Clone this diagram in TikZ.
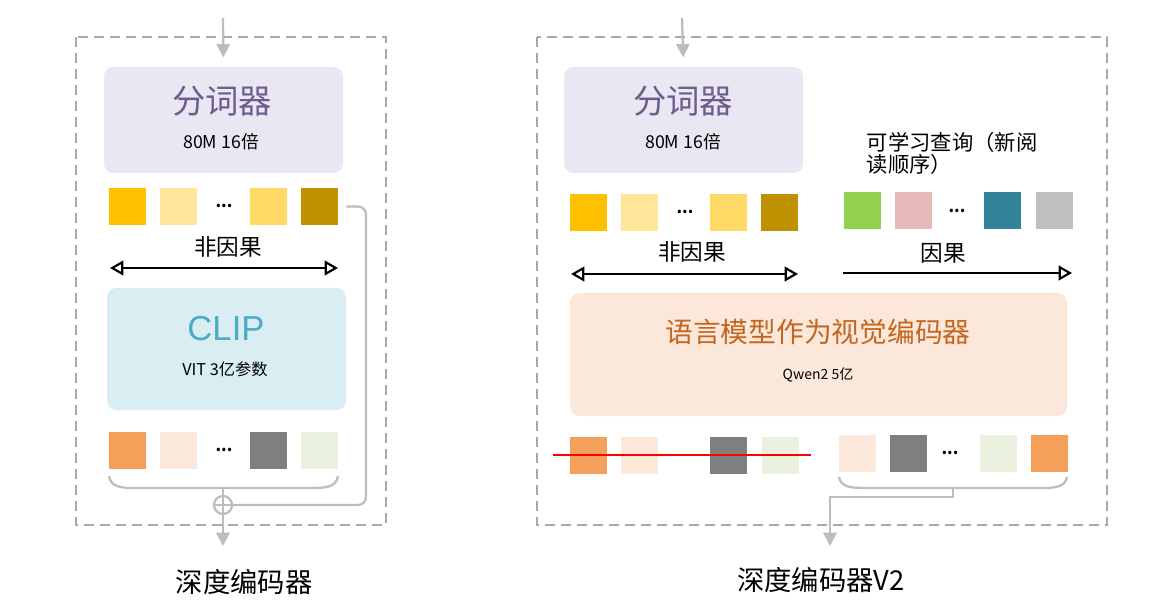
\documentclass[tikz,border=0pt]{standalone}
\usepackage{fontspec}
\setmainfont{Noto Sans CJK SC}
\newfontfamily\latinfont{Liberation Sans}
\usetikzlibrary{arrows.meta}
\definecolor{DashGray}{HTML}{A8A8A8}
\definecolor{LineGray}{HTML}{BDBDBD}
\definecolor{TokFill}{HTML}{E9E7F1}
\definecolor{TokText}{HTML}{6E5C8F}
\definecolor{ClipFill}{HTML}{DAEDF3}
\definecolor{ClipText}{HTML}{4BACC6}
\definecolor{LlmFill}{HTML}{FCE8DA}
\definecolor{LlmText}{HTML}{C4661F}
\definecolor{YelA}{HTML}{FFC000}
\definecolor{YelB}{HTML}{FFE699}
\definecolor{YelC}{HTML}{FFD966}
\definecolor{YelD}{HTML}{BF9000}
\definecolor{OrgA}{HTML}{F5A05A}
\definecolor{OrgB}{HTML}{FCE8DB}
\definecolor{GryA}{HTML}{7F7F7F}
\definecolor{GrnA}{HTML}{EBF1DF}
\definecolor{QryA}{HTML}{92D050}
\definecolor{QryB}{HTML}{E6B9B8}
\definecolor{QryC}{HTML}{31849B}
\definecolor{QryD}{HTML}{BFBFBF}

\begin{document}
\begin{tikzpicture}[x=0.75pt, y=-0.75pt,
    every node/.style={font=\fontsize{13.3}{15}\selectfont},
    panel/.style={draw=DashGray, line width=1.1pt, dash pattern=on 7.5pt off 4.5pt},
    tokbox/.style={rectangle, rounded corners=7pt, fill=TokFill, minimum width=179.25pt, minimum height=79.5pt},
    tok/.style={rectangle, minimum size=27.75pt, inner sep=0pt},
    dots/.style={font=\bfseries\fontsize{12}{14}\selectfont},
    lbl/.style={font=\fontsize{17}{20}\selectfont},
    captext/.style={font=\fontsize{20.5}{24}\selectfont},
    gline/.style={draw=LineGray, line width=1.7pt},
    garrow/.style={gline, -{Triangle[length=10pt, width=10pt]}},
    bidir/.style={line width=1.6pt, {Triangle[open, length=10pt, width=11pt]}-{Triangle[open, length=10pt, width=11pt]}}
  ]
    \useasboundingbox (0,0) rectangle (1156,609);

    % DeepEncoder
    \draw[panel] (76,37) rectangle (386,525);
    \coordinate (inL) at (223,18);
    \node[tokbox] (tokL) at (223.5,120) {};
    \node[font=\fontsize{25}{30}\selectfont, text=TokText] (tokLt) at (222,101) {分词器};
    \node (tokLs) at (221,142) {80M 16倍};
    \draw[garrow, shorten >=7pt] (inL) -- (tokL.north);

    \node[tok, fill=YelA] (yL1) at (127.5,206.5) {};
    \node[tok, fill=YelB] (yL2) at (178.5,206.5) {};
    \node[dots] (yLd) at (224,206) {...};
    \node[tok, fill=YelC] (yL3) at (268.5,206.5) {};
    \node[tok, fill=YelD] (yL4) at (319.5,206.5) {};

    \node[lbl] (ncL) at (228,247) {非因果};
    \coordinate (ncLa) at (110,268);
    \coordinate (ncLb) at (338,268);
    \draw[bidir] (ncLa) -- (ncLb);

    \node[rectangle, rounded corners=7pt, fill=ClipFill, minimum width=179.25pt, minimum height=91.5pt] (clip) at (226.5,349) {};
    \node[font=\latinfont\fontsize{26}{30}\selectfont, text=ClipText] (clipt) at (226,329) {CLIP};
    \node[font=\fontsize{12.2}{14}\selectfont] (clips) at (225,369) {VIT 3亿参数};

    \node[tok, fill=OrgA] (oL1) at (127.5,450) {};
    \node[tok, fill=OrgB] (oL2) at (178.5,450) {};
    \node[dots] (oLd) at (224,450) {...};
    \node[tok, fill=GryA] (oL3) at (268.5,450) {};
    \node[tok, fill=GrnA] (oL4) at (319.5,450) {};

    \draw[gline] (109,476) .. controls (111,487) and (120,488) .. (136,488) -- (311,488) .. controls (327,488) and (336,487) .. (338,476);
    \coordinate (brL) at (223,488);
    \node[circle, draw=LineGray, line width=1.7pt, minimum size=13.5pt, inner sep=0pt] (plus) at (223,505) {};
    \draw[gline] (plus.north) -- (plus.south) (plus.west) -- (plus.east);
    \draw[gline] (brL) -- (plus.north);
    \coordinate (byp) at (366,505);
    \draw[gline, rounded corners=6pt, shorten <=6pt] (yL4.east) -| (byp) -- (plus.east);
    \coordinate (outL) at (223,546);
    \draw[garrow] (plus.south) -- (outL);
    \node[captext] (capL) at (244,582) {深度编码器};

    % DeepEncoder V2
    \draw[panel] (537,37) rectangle (1107,525);
    \coordinate (inR) at (682,18);
    \node[tokbox] (tokR) at (683.5,120) {};
    \node[font=\fontsize{25}{30}\selectfont, text=TokText] (tokRt) at (683,101) {分词器};
    \node (tokRs) at (683,142) {80M 16倍};
    \draw[garrow, shorten >=7pt] (inR) -- (tokR.north);

    \node[tok, fill=YelA] (yR1) at (588.5,212.5) {};
    \node[tok, fill=YelB] (yR2) at (639.5,212.5) {};
    \node[dots] (yRd) at (685,212) {...};
    \node[tok, fill=YelC] (yR3) at (728.5,212.5) {};
    \node[tok, fill=YelD] (yR4) at (779.5,212.5) {};

    \node[lbl] (ncR) at (692,252) {非因果};
    \coordinate (ncRa) at (571,274);
    \coordinate (ncRb) at (798,274);
    \draw[bidir] (ncRa) -- (ncRb);

    \node[font=\fontsize{16}{16.5}\selectfont, align=left, anchor=west] (qry) at (862,153) {可学习查询（新阅\\读顺序）};
    \node[tok, fill=QryA] (q1) at (862,211) {};
    \node[tok, fill=QryB] (q2) at (913.5,211) {};
    \node[dots] (qd) at (957,211) {...};
    \node[tok, fill=QryC] (q3) at (1002.5,211) {};
    \node[tok, fill=QryD] (q4) at (1054.5,211) {};

    \node[lbl] (caus) at (943,253) {因果};
    \coordinate (causa) at (843,273);
    \coordinate (causb) at (1072,273);
    \draw[line width=1.6pt, -{Triangle[open, length=10pt, width=11pt]}] (causa) -- (causb);

    \node[rectangle, rounded corners=7pt, fill=LlmFill, minimum width=372.75pt, minimum height=92.25pt] (llm) at (818.5,354.5) {};
    \node[font=\fontsize{20.8}{24}\selectfont, text=LlmText] (llmt) at (818,332) {语言模型作为视觉编码器};
    \node[font=\fontsize{10.5}{13}\selectfont] (llms) at (818,375) {Qwen2 5亿};

    \node[tok, fill=OrgA] (oR1) at (588.5,455) {};
    \node[tok, fill=OrgB] (oR2) at (639.5,455) {};
    \node[tok, fill=GryA] (oR3) at (728.5,455) {};
    \node[tok, fill=GrnA] (oR4) at (780,455) {};
    \coordinate (cutA) at (553,455);
    \coordinate (cutB) at (811,455);
    \draw[red, line width=0.9pt] (cutA) -- (cutB);

    \node[tok, fill=OrgB] (pR1) at (857.5,453.5) {};
    \node[tok, fill=GryA] (pR2) at (908.5,453.5) {};
    \node[dots] (pRd) at (950,453) {...};
    \node[tok, fill=GrnA] (pR3) at (998.5,453.5) {};
    \node[tok, fill=OrgA] (pR4) at (1049,453.5) {};

    \draw[gline] (839,477) .. controls (841,487) and (850,488) .. (866,488) -- (1040,488) .. controls (1056,488) and (1065,487) .. (1067,477);
    \coordinate (brR) at (953,488);
    \coordinate (outR) at (830,546);
    \draw[garrow] (brR) -- (953,497) -| (outR);
    \node[captext] (capR) at (821,580) {深度编码器V2};
  \end{tikzpicture}
\end{document}
